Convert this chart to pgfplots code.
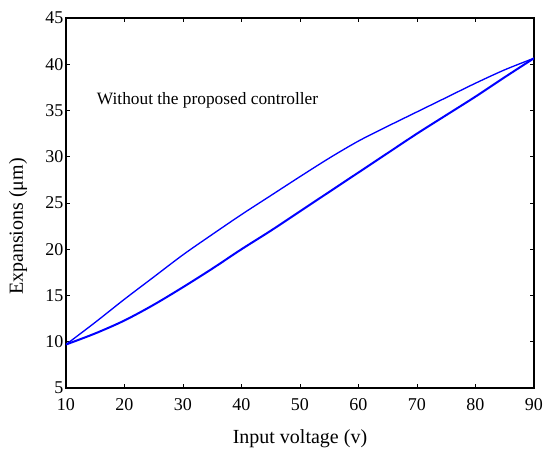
\documentclass[border=0pt]{standalone}
\usepackage{fontspec}
\setmainfont{Liberation Serif}
\usepackage{pgfplots}
\pgfplotsset{compat=1.18}
\begin{document}
\begin{tikzpicture}
\path[use as bounding box] (-49.5pt,-51pt) rectangle (358.5pt,291pt);
\begin{axis}[
  scale only axis,
  width=351pt, height=277.5pt,
  xmin=10, xmax=90, ymin=5, ymax=45,
  xtick={10,20,...,90},
  ytick={5,10,...,45},
  tick align=inside,
  major tick length=3pt,
  axis line style={line width=0.8pt},
  every tick/.style={black, line width=0.6pt},
  /pgf/number format/assume math mode=true,
  tick label style={font=\fontsize{13.5}{15}\selectfont},
  xticklabel style={yshift=-4pt},
  yticklabel style={xshift=1.5pt},
  xlabel={Input voltage (v)},
  ylabel={Expansions (μm)},
  label style={font=\fontsize{15}{18}\selectfont},
  xlabel style={at={(axis description cs:0.5,-0.137)}, anchor=center},
  ylabel style={at={(axis description cs:-0.1026,0.4365)}, anchor=center, rotate=0},
]
% lower (ascending) branch
\addplot[blue, line width=1.5pt, smooth, tension=0.5] coordinates {
(10,9.7) (15,10.9) (20,12.3) (25,14.0) (30,15.9) (35,17.9) (40,20.0)
(45,22.0) (50,24.1) (55,26.2) (60,28.3) (65,30.4) (70,32.5) (75,34.5)
(80,36.5) (85,38.6) (90,40.65)
};
% upper (descending) branch
\addplot[blue, line width=1pt, smooth, tension=0.5] coordinates {
(90,40.65) (85,39.4) (80,37.95) (75,36.4) (70,34.85) (65,33.3) (60,31.7)
(55,29.85) (50,27.85) (45,25.8) (40,23.75) (35,21.6) (30,19.4) (25,17.0)
(20,14.6) (15,12.1) (10,9.7)
};
\node[anchor=base west, inner sep=0pt, font=\fontsize{13}{15}\selectfont]
  at (axis cs:15.25,35.7) {Without the proposed controller};
\end{axis}
\end{tikzpicture}
\end{document}
